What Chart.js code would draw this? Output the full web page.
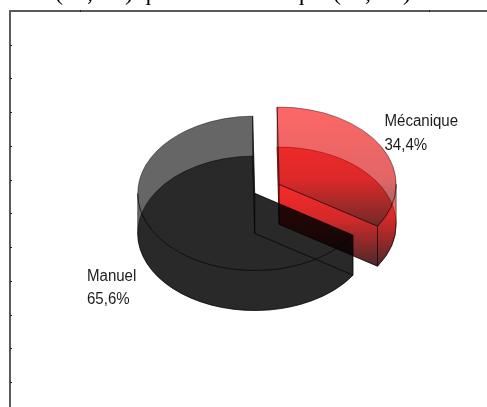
<!DOCTYPE html>
<html>
<head>
<meta charset="utf-8">
<style>
  html, body { margin: 0; padding: 0; background: #fff; overflow: hidden; }
  canvas { display: block; }
</style>
<script src="https://cdn.jsdelivr.net/npm/chart.js@4/dist/chart.umd.min.js"></script>
</head>
<body>
<canvas id="pieChart" width="487" height="407"></canvas>
<script>
const categories = ['Mécanique', 'Manuel'];
const shares = [34.4, 65.6];
const explode = [28, 0];
const captionLead = 'manuel ';
const captionRest = '(65,6%) que tout mécanique (34,4%).';

// faux 3D settings
const R = 117;
const SQUASH = 0.66;
const DEPTH = 40;
const EDGE = 'rgba(0,0,0,0.6)';
const EDGE_W = 0.8;

function redGradient(ctx, y0, y1, mid) {
    const g = ctx.createLinearGradient(0, y0, 0, y1);
    g.addColorStop(0, 'rgba(255,0,0,0.6)');
    g.addColorStop(mid, 'rgba(205,0,0,0.6)');
    g.addColorStop(1, 'rgba(35,0,0,0.6)');
    return g;
}

function faceFill(ctx, i, y0, y1) {
    return i === 0 ? redGradient(ctx, y0, y1, 0.6) : 'rgba(0,0,0,0.6)';
}

// walls go dark sooner than the flat faces
function wallFill(ctx, i, y) {
    return i === 0 ? redGradient(ctx, y, y + DEPTH + R * SQUASH * 0.56, 0.4) : 'rgba(0,0,0,0.6)';
}

function topFaceColor(context) {
    const area = context.chart.chartArea;
    if (!area) return 'transparent';
    const cy = (area.top + area.bottom) / 2;
    return faceFill(context.chart.ctx, context.dataIndex, cy - R, cy + R * 0.56);
}

function shiftOf(arc, i) {
    const mid = (arc.startAngle + arc.endAngle) / 2;
    return {
        x: arc.x + Math.cos(mid) * explode[i],
        y: arc.y + Math.sin(mid) * explode[i] * SQUASH
    };
}

function drawBottom(ctx, arc, i) {
    const c = shiftOf(arc, i);
    const cy = c.y + DEPTH;
    ctx.beginPath();
    ctx.moveTo(c.x, cy);
    ctx.ellipse(c.x, cy, R, R * SQUASH, 0, arc.startAngle, arc.endAngle);
    ctx.closePath();
    ctx.fillStyle = faceFill(ctx, i, cy - R * SQUASH, cy + R * SQUASH * 0.56);
    ctx.fill();
    ctx.strokeStyle = EDGE;
    ctx.stroke();
}

function drawWalls(ctx, arc, i) {
    const c = shiftOf(arc, i);
    // the two cut walls
    [arc.startAngle, arc.endAngle].forEach(function (a) {
        const rx = c.x + Math.cos(a) * R;
        const ry = c.y + Math.sin(a) * R * SQUASH;
        ctx.beginPath();
        ctx.moveTo(c.x, c.y);
        ctx.lineTo(rx, ry);
        ctx.lineTo(rx, ry + DEPTH);
        ctx.lineTo(c.x, c.y + DEPTH);
        ctx.closePath();
        ctx.fillStyle = wallFill(ctx, i, c.y);
        ctx.fill();
        ctx.strokeStyle = EDGE;
        ctx.stroke();
    });
    // curved front wall, only the part facing the viewer
    const lo = Math.max(arc.startAngle, 0);
    const hi = Math.min(arc.endAngle, Math.PI);
    if (hi > lo) {
        ctx.beginPath();
        ctx.ellipse(c.x, c.y, R, R * SQUASH, 0, lo, hi);
        ctx.ellipse(c.x, c.y + DEPTH, R, R * SQUASH, 0, hi, lo, true);
        ctx.closePath();
        ctx.fillStyle = wallFill(ctx, i, c.y);
        ctx.fill();
        ctx.strokeStyle = EDGE;
        ctx.stroke();
    }
}

// Arial in the original is a bit narrower than tall, so squeeze the text
function narrowText(ctx, text, x, y) {
    ctx.fillText(text, x, y, ctx.measureText(text).width * 0.94);
}

const pie3d = {
    id: 'pie3d',
    beforeDraw: function (chart) {
        const ctx = chart.ctx;
        ctx.save();
        // frame with small ticks
        ctx.fillStyle = '#5a5a5a';
        ctx.fillRect(9, 10, 2, 397);
        ctx.fillRect(9, 10, 478, 2);
        ctx.fillStyle = '#222';
        [45, 78, 112, 146, 180, 213, 247, 281, 315, 348, 382].forEach(function (y) {
            ctx.fillRect(10, y, 2, 1);
        });
        [80, 429].forEach(function (x) {
            ctx.fillRect(x, 10, 1, 2);
        });
        ctx.restore();
    },
    beforeDatasetsDraw: function (chart) {
        const ctx = chart.ctx;
        const arcs = chart.getDatasetMeta(0).data;
        ctx.save();
        ctx.lineWidth = EDGE_W;
        // red slice first, the black one lies over it
        arcs.forEach(function (arc, i) {
            const c = shiftOf(arc, i);
            drawBottom(ctx, arc, i);
            drawWalls(ctx, arc, i);
            ctx.save();
            ctx.translate(c.x, c.y);
            ctx.scale(1, SQUASH);
            ctx.translate(-arc.x, -arc.y);
            arc.draw(ctx);
            ctx.restore();
        });
        ctx.restore();
        return false;
    },
    afterDraw: function (chart) {
        const ctx = chart.ctx;
        ctx.save();
        ctx.fillStyle = '#1c1c1c';
        ctx.textBaseline = 'alphabetic';
        ctx.font = '16px "Liberation Sans"';
        const spots = [[384.5, 126, 149.5], [87, 281, 304]];
        categories.forEach(function (cat, i) {
            const pct = shares[i].toFixed(1).replace('.', ',') + '%';
            narrowText(ctx, cat, spots[i][0], spots[i][1]);
            narrowText(ctx, pct, spots[i][0], spots[i][2]);
        });
        // sentence above the figure, cut off by the top of the picture
        ctx.fillStyle = '#000';
        ctx.font = '24px "Liberation Serif"';
        ctx.fillText(captionLead + captionRest, 55 - ctx.measureText(captionLead).width, 0);
        ctx.restore();
    }
};

new Chart(document.getElementById('pieChart'), {
    type: 'pie',
    data: {
        labels: categories,
        datasets: [{
            data: shares,
            backgroundColor: topFaceColor,
            borderColor: EDGE,
            borderWidth: EDGE_W
        }]
    },
    options: {
        responsive: false,
        animation: false,
        radius: R,
        rotation: -1,
        layout: { padding: { left: 22.4, right: 0, top: 0, bottom: 20.4 } },
        plugins: { legend: { display: false }, tooltip: { enabled: false } }
    },
    plugins: [pie3d]
});
</script>
</body>
</html>
